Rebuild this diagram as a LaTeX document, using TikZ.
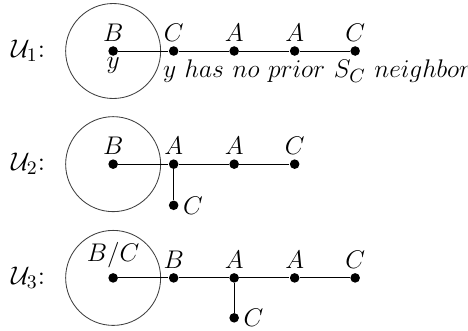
\documentclass[tikz,border=0pt]{standalone}
\usepackage{amsmath,amssymb}
\usetikzlibrary{positioning}

\begin{document}
\begin{tikzpicture}[
    node distance=1cm and 1cm, on grid,
    vtx/.style={circle, fill, inner sep=0pt, minimum size=4.5pt},
    ring/.style={circle, draw, black!75, minimum size=1.57cm, inner sep=0pt},
    every label/.style={label distance=-1.5pt},
    font=\fontsize{12.5}{15}\selectfont,
]
    \useasboundingbox (-1.87,0.843) rectangle (5.865,-4.612);

    % U_1
    \node[anchor=east] (u1) at (-1.0,0) {$\mathcal{U}_1$:};
    \node[vtx, label=above:$B$, label={[label distance=-3pt]below:$y$}] (b1) at (0,0) {};
    \node[vtx, right=of b1, label=above:$C$] (c1) {};
    \node[vtx, right=of c1, label=above:$A$] (a1) {};
    \node[vtx, right=of a1, label=above:$A$] (aa1) {};
    \node[vtx, right=of aa1, label=above:$C$] (cc1) {};
    \node[ring] (r1) at (b1) {};
    \node[anchor=west] (note) at (0.7,-0.34) {$y\ has\ no\ prior\ S_C\ neighbor$};
    \draw (b1) -- (c1) -- (a1) -- (aa1) -- (cc1);

    % U_2
    \node[anchor=east] (u2) at (-1.0,-1.87) {$\mathcal{U}_2$:};
    \node[vtx, label=above:$B$] (b2) at (0,-1.87) {};
    \node[vtx, right=of b2, label=above:$A$] (a2) {};
    \node[vtx, right=of a2, label=above:$A$] (aa2) {};
    \node[vtx, right=of aa2, label=above:$C$] (c2) {};
    \node[vtx, below=0.68cm of a2, label=right:$C$] (cb2) {};
    \node[ring] (r2) at (b2) {};
    \draw (b2) -- (a2) -- (aa2) -- (c2);
    \draw (a2) -- (cb2);

    % U_3
    \node[anchor=east] (u3) at (-1.0,-3.75) {$\mathcal{U}_3$:};
    \node[vtx, label=above:$B/C$] (b3) at (0,-3.75) {};
    \node[vtx, right=of b3, label=above:$B$] (bb3) {};
    \node[vtx, right=of bb3, label=above:$A$] (a3) {};
    \node[vtx, right=of a3, label=above:$A$] (aa3) {};
    \node[vtx, right=of aa3, label=above:$C$] (c3) {};
    \node[vtx, below=0.66cm of a3, label=right:$C$] (cb3) {};
    \node[ring] (r3) at (b3) {};
    \draw (b3) -- (bb3) -- (a3) -- (aa3) -- (c3);
    \draw (a3) -- (cb3);
\end{tikzpicture}
\end{document}
